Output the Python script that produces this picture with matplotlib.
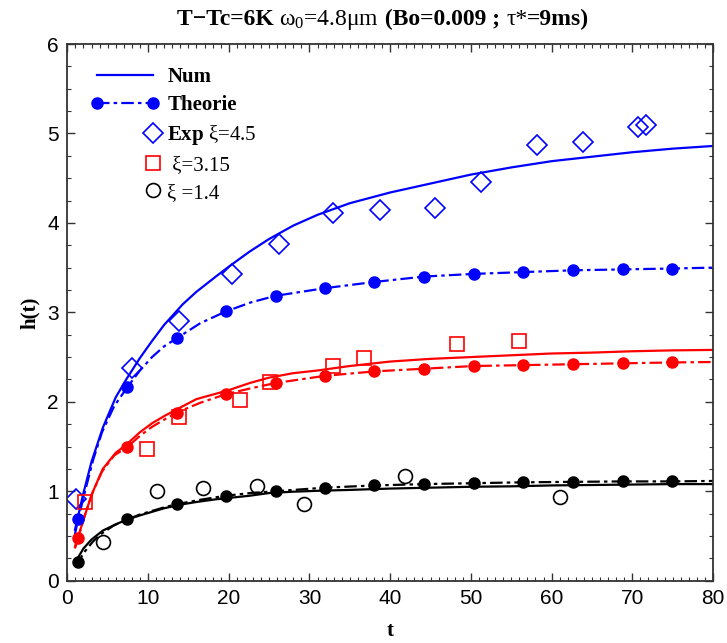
import numpy as np
import matplotlib
matplotlib.use("Agg")
import matplotlib.pyplot as plt
from matplotlib.lines import Line2D
from matplotlib.legend_handler import HandlerLine2D
from matplotlib.ticker import MultipleLocator

plt.rcParams['mathtext.fontset'] = 'custom'
plt.rcParams['mathtext.rm'] = 'Liberation Serif'
plt.rcParams['mathtext.it'] = 'Liberation Serif'
plt.rcParams['mathtext.bf'] = 'Liberation Serif:bold'
plt.rcParams['lines.scale_dashes'] = False

# ---------------- data ----------------
# numerical solution (solid lines)
t_num = [0.95, 2, 3, 4.4, 6, 7.3, 9, 10.5, 12, 14.3, 16, 18.4, 20, 22.6, 25, 28, 31,
         35, 40, 45, 50, 55, 60, 65, 70, 75, 80]
blue_num = [0.57, 0.98, 1.33, 1.71, 2.05, 2.25, 2.49, 2.68, 2.86, 3.09, 3.23, 3.40, 3.51,
            3.68, 3.82, 3.97, 4.09, 4.22, 4.34, 4.44, 4.54, 4.62, 4.69, 4.74, 4.79, 4.83, 4.86]
red_num = [0.38, 0.68, 0.96, 1.25, 1.43, 1.52, 1.66, 1.76, 1.84, 1.95, 2.03, 2.09, 2.13,
           2.21, 2.27, 2.32, 2.35, 2.40, 2.45, 2.48, 2.50, 2.52, 2.54, 2.55, 2.565, 2.575, 2.58]
black_num = [0.20, 0.36, 0.46, 0.56, 0.63, 0.68, 0.73, 0.77, 0.81, 0.855, 0.88, 0.91, 0.925,
             0.95, 0.98, 0.995, 1.005, 1.015, 1.03, 1.04, 1.05, 1.055, 1.065, 1.07, 1.075, 1.08, 1.08]

# theory (dash-dot lines)
t_th_line = [0.95, 1.35, 2.2, 3.2, 4.3, 5.8, 7.45, 9.0, 10.5, 12.0, 13.55, 16.5, 19.65, 22.7,
             25.8, 31.9, 38.05, 44.2, 50.35, 56.5, 62.65, 68.8, 74.95, 80]
blue_th_line = [0.52, 0.69, 1.0, 1.35, 1.66, 1.95, 2.165, 2.35, 2.50, 2.62, 2.71, 2.88, 3.01,
                3.11, 3.185, 3.27, 3.34, 3.40, 3.43, 3.45, 3.47, 3.48, 3.49, 3.50]
red_th_line = [0.36, 0.48, 0.74, 1.0, 1.22, 1.40, 1.495, 1.62, 1.72, 1.80, 1.88, 1.99, 2.085,
               2.15, 2.21, 2.29, 2.34, 2.37, 2.40, 2.41, 2.42, 2.43, 2.44, 2.445]
black_th_line = [0.17, 0.21, 0.33, 0.44, 0.53, 0.62, 0.685, 0.74, 0.78, 0.82, 0.855, 0.905, 0.95,
                 0.98, 1.0, 1.04, 1.065, 1.08, 1.09, 1.10, 1.105, 1.11, 1.11, 1.115]

# theory markers
t_th = [1.35, 7.45, 13.55, 19.65, 25.8, 31.9, 38.05, 44.2, 50.35, 56.5, 62.65, 68.8, 74.95]
blue_th = [0.69, 2.165, 2.71, 3.01, 3.185, 3.27, 3.34, 3.40, 3.43, 3.45, 3.47, 3.48, 3.49]
red_th = [0.48, 1.495, 1.88, 2.085, 2.21, 2.29, 2.34, 2.37, 2.40, 2.41, 2.42, 2.43, 2.44]
black_th = [0.21, 0.685, 0.855, 0.95, 1.0, 1.04, 1.065, 1.08, 1.09, 1.10, 1.105, 1.11, 1.11]

# experiments
blue_exp_t = [1.04, 8.07, 13.8, 20.4, 26.2, 32.9, 38.75, 45.5, 51.3, 58.2, 63.9, 70.7, 71.7]
blue_exp = [0.91, 2.38, 2.90, 3.43, 3.76, 4.11, 4.14, 4.165, 4.46, 4.87, 4.90, 5.07, 5.10]
red_exp_t = [2.19, 9.88, 13.8, 21.4, 25.1, 32.9, 36.8, 48.3, 56.0]
red_exp = [0.875, 1.473, 1.83, 2.02, 2.22, 2.40, 2.49, 2.65, 2.68]
black_exp_t = [4.37, 11.1, 16.8, 23.5, 29.3, 41.8, 61.1]
black_exp = [0.43, 1.0, 1.035, 1.06, 0.86, 1.17, 0.935]

labels = ["Num", "Theorie", r"$\mathbf{Exp}$ ξ=4.5", " ξ=3.15", "ξ =1.4"]
title_pieces = [("T\u2212Tc=6K ", "bold"), (r"$\omega_0$=4.8μm", "normal"),
                (" (Bo=0.009 ; ", "bold"), ("τ*", "normal"), ("=9ms)", "bold")]

BLUE = "#0000ff"
RED = "#ff0000"
BLACK = "#000000"
DASH = (0, (9, 3, 2.5, 3))

W, H = 727, 643
fig = plt.figure(figsize=(W / 100, H / 100), dpi=100)
ax = fig.add_axes([67.3 / W, 62.3 / H, 645.7 / W, 536.7 / H])

lw = 1.6
ax.plot(t_num, blue_num, color=BLUE, lw=lw)
ax.plot(t_num, red_num, color=RED, lw=lw)
ax.plot(t_num, black_num, color=BLACK, lw=lw)

ax.plot(t_th_line, blue_th_line, color=BLUE, lw=lw, linestyle=DASH)
ax.plot(t_th_line, red_th_line, color=RED, lw=lw, linestyle=DASH)
ax.plot(t_th_line, black_th_line, color=BLACK, lw=lw, linestyle=DASH)

ms = 8
ax.plot(t_th, blue_th, 'o', color=BLUE, ms=ms, ls='none')
ax.plot(t_th, red_th, 'o', color=RED, ms=ms, ls='none')
ax.plot(t_th, black_th, 'o', color=BLACK, ms=ms, ls='none')

h_d, = ax.plot(blue_exp_t, blue_exp, 'D', mfc='none', mec=BLUE, ms=10, mew=1.2, ls='none')
h_s, = ax.plot(red_exp_t, red_exp, 's', mfc='none', mec=RED, ms=9.5, mew=1.2, ls='none')
h_c, = ax.plot(black_exp_t, black_exp, 'o', mfc='none', mec=BLACK, ms=10, mew=1.2, ls='none')

ax.set_xlim(0, 80)
ax.set_ylim(0, 6)
ax.xaxis.set_major_locator(MultipleLocator(10))
ax.xaxis.set_minor_locator(MultipleLocator(1))
ax.yaxis.set_major_locator(MultipleLocator(1))
ax.yaxis.set_minor_locator(MultipleLocator(0.25))
ax.tick_params(which='both', direction='in', top=True, right=True, color='#333333')
ax.tick_params(which='major', length=6, width=1.0, labelsize=15, pad=6)
ax.tick_params(which='minor', length=3, width=0.8)
for lab in ax.get_xticklabels() + ax.get_yticklabels():
    lab.set_family('Liberation Sans')
for sp in ax.spines.values():
    sp.set_linewidth(1.3)
    sp.set_color('#333333')

ax.set_xlabel("t", family='Liberation Serif', fontweight='bold', fontsize=15, labelpad=9)
ax.set_ylabel("h(t)", family='Liberation Serif', fontweight='bold', fontsize=15, labelpad=5)


class RightMarker(HandlerLine2D):
    def get_xdata(self, legend, xdescent, ydescent, width, height, fontsize):
        end = -xdescent + width - 0.3 * fontsize
        return np.array([end - 0.2, end]), np.array([end])


h_num = Line2D([], [], color=BLUE, lw=lw)
h_th = Line2D([], [], color=BLUE, lw=lw, linestyle=DASH, marker='o', ms=ms)
leg = ax.legend([h_num, h_th, h_d, h_s, h_c], labels, loc='upper left',
                bbox_to_anchor=((91 - 67.3) / 645.7, (580.7 - 67) / 536.7),
                frameon=False, borderpad=0, borderaxespad=0, handlelength=3.27,
                handletextpad=0.39, labelspacing=0.39, numpoints=2,
                prop={'family': 'Liberation Serif', 'size': 15},
                handler_map={h_d: RightMarker(numpoints=1), h_s: RightMarker(numpoints=1),
                             h_c: RightMarker(numpoints=1)})
for i, txt in enumerate(leg.get_texts()):
    if i < 2:
        txt.set_fontweight('bold')

# title made of mixed-weight pieces
fig.canvas.draw()
renderer = fig.canvas.get_renderer()
objs = []
for s, w in title_pieces:
    objs.append(fig.text(0, 1 - 25 / H, s, fontsize=17, fontweight=w,
                         family='Liberation Serif', va='baseline', ha='left'))
widths = [o.get_window_extent(renderer).width for o in objs]
x = 383 - sum(widths) / 2
for o, wd in zip(objs, widths):
    o.set_x(x / W)
    x += wd

fig.savefig("out.png", dpi=100)
